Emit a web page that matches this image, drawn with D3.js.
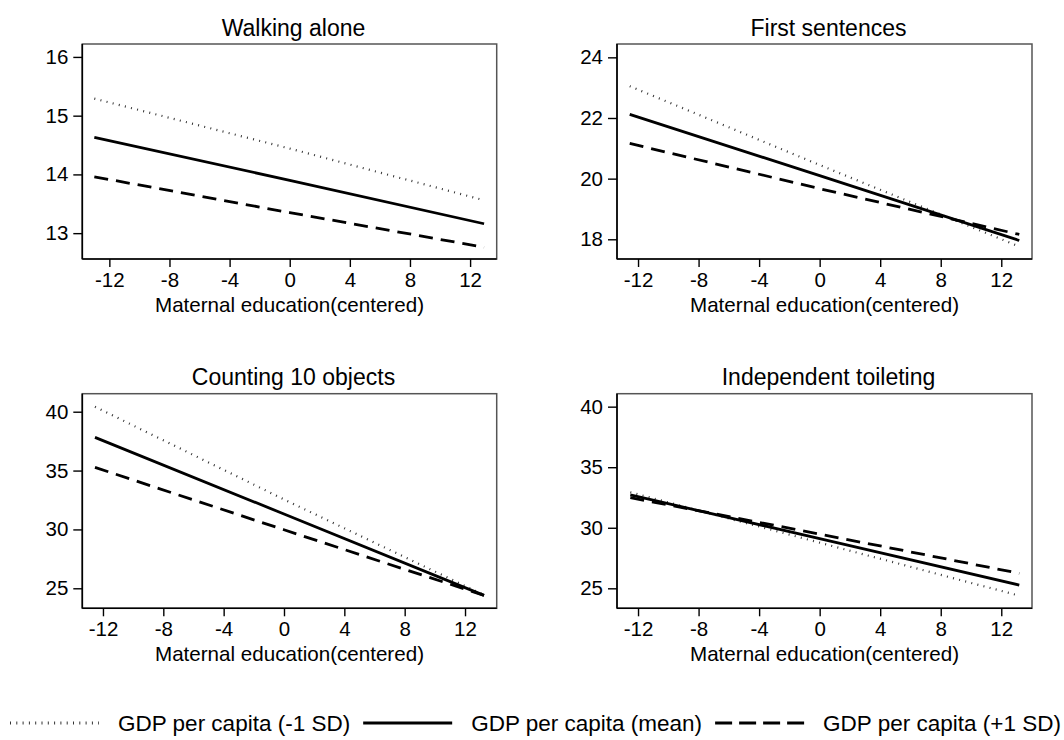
<!DOCTYPE html>
<meta charset="utf-8">
<style>
  body{ margin:0; background:#fff; }
  text{
    fill: #000;
    font-family: "Liberation Sans", Arial, sans-serif;
  }
</style>

<svg width="1064" height="740"></svg>

<script src="https://d3js.org/d3.v7.min.js"></script>
<script>
  // data
  const panelTitles = ['Walking alone', 'First sentences', 'Counting 10 objects', 'Independent toileting']
  const xTickValues = [-12, -8, -4, 0, 4, 8, 12]
  const yTickValues = [[13, 14, 15, 16], [18, 20, 22, 24], [25, 30, 35, 40], [25, 30, 35, 40]]
  const xDomains = [[-13.8, 13.77], [-13.39, 14.03], [-13.37, 14.1], [-13.39, 14.03]]
  const yDomains = [[12.56, 16.22], [17.35, 24.44], [23.3, 41.53], [23.35, 41.07]]

  // maternal education points per panel (start, centre, end)
  const educ = [[-13.0, 0, 12.93], [-12.55, 0, 13.19], [-12.53, 0, 13.26], [-12.51, 0, 13.19]]
  // predicted age per GDP level
  const gdpLow = [[15.29, 14.44, 13.56], [23.05, 20.45, 17.76], [40.42, 32.55, 24.43], [32.93, 28.77, 24.39]]
  const gdpMean = [[14.63, 13.9, 13.16], [22.12, 20.1, 17.96], [37.82, 31.31, 24.4], [32.71, 29.11, 25.27]]
  const gdpHigh = [[13.96, 13.35, 12.76], [21.16, 19.67, 18.16], [35.27, 29.97, 24.4], [32.49, 29.48, 26.24]]

  const seriesNames = ['GDP per capita (-1 SD)', 'GDP per capita (mean)', 'GDP per capita (+1 SD)']
  const seriesData = [gdpLow, gdpMean, gdpHigh]

  //visual values
  const lineStyles = [
    {width: 2.2, dash: '1,5.3', color: '#333', legendDash: '1,5.3'},
    {width: 2.8, dash: null, color: '#000', legendDash: null},
    {width: 2.8, dash: '14,8', color: '#000', legendDash: '17,7'}
  ]
  const boxes = [
    {x: 82.3, y: 44, w: 414.4, h: 215},
    {x: 617, y: 44, w: 415, h: 215},
    {x: 82.3, y: 393.7, w: 414.4, h: 214.6},
    {x: 617, y: 393.7, w: 415, h: 214.6}
  ]

  const svg = d3.select('svg')
  const fmt = d=>String(d)   // plain hyphen, no decimals

  panelTitles.forEach((title, p)=>{
    const b = boxes[p]
    const g = svg.append('g').attr('transform', 'translate('+b.x+','+b.y+')')

    let xScale = d3.scaleLinear().domain(xDomains[p]).range([0, b.w])
    let yScale = d3.scaleLinear().domain(yDomains[p]).range([b.h, 0])

    // frame
    g.append('rect')
      .attr('width', b.w).attr('height', b.h)
      .attr('fill', 'none').attr('stroke', '#555').attr('stroke-width', 1.5)

    let x_axis = d3.axisBottom(xScale).tickValues(xTickValues).tickFormat(fmt)
      .tickSizeInner(8).tickSizeOuter(0).tickPadding(5)
    let y_axis = d3.axisLeft(yScale).tickValues(yTickValues[p]).tickFormat(fmt)
      .tickSizeInner(9).tickSizeOuter(0).tickPadding(5)

    const xa = g.append('g').attr('transform', 'translate(0,'+b.h+')').call(x_axis)
    const ya = g.append('g').call(y_axis)
    ;[xa, ya].forEach(a=>{
      a.select('.domain').attr('stroke', '#000').attr('stroke-width', 1.6)
      a.selectAll('.tick line').attr('stroke', '#000').attr('stroke-width', 1.4)
      a.selectAll('.tick text').style('font-size', '20.5px').attr('fill', '#000')
    })
    ya.select('.domain').attr('d', 'M0,0V'+b.h)
    xa.select('.domain').attr('d', 'M0,0H'+b.w)

    // titles
    g.append('text')
      .attr('x', b.w/2 + 4).attr('y', -8.5)
      .attr('text-anchor', 'middle')
      .style('font-size', '23px')
      .text(title)
    g.append('text')
      .attr('x', b.w/2).attr('y', b.h + 52.5)
      .attr('text-anchor', 'middle')
      .style('font-size', '20.6px')
      .text('Maternal education(centered)')

    // lines
    seriesData.forEach((series, s)=>{
      const pts = educ[p].map((x, i)=>[x, series[p][i]])
      g.append('path')
        .datum(pts)
        .attr('fill', 'none')
        .attr('stroke', lineStyles[s].color)
        .attr('stroke-width', lineStyles[s].width)
        .attr('stroke-dasharray', lineStyles[s].dash)
        .attr('d', d3.line().x(d=>xScale(d[0])).y(d=>yScale(d[1])))
    })
  })

  // legend
  const legend = svg.append('g').attr('transform', 'translate(0,723)')
  const symW = 89, symGap = 19, itemGap = 13
  let lx = 10
  seriesNames.forEach((name, s)=>{
    legend.append('line')
      .attr('x1', lx).attr('x2', lx + symW)
      .attr('stroke', lineStyles[s].color)
      .attr('stroke-width', 3)
      .attr('stroke-dasharray', lineStyles[s].legendDash)
    const t = legend.append('text')
      .attr('x', lx + symW + symGap)
      .attr('y', 8)
      .style('font-size', '22.5px')
      .text(name)
    lx = lx + symW + symGap + t.node().getComputedTextLength() + itemGap
  })
</script>
